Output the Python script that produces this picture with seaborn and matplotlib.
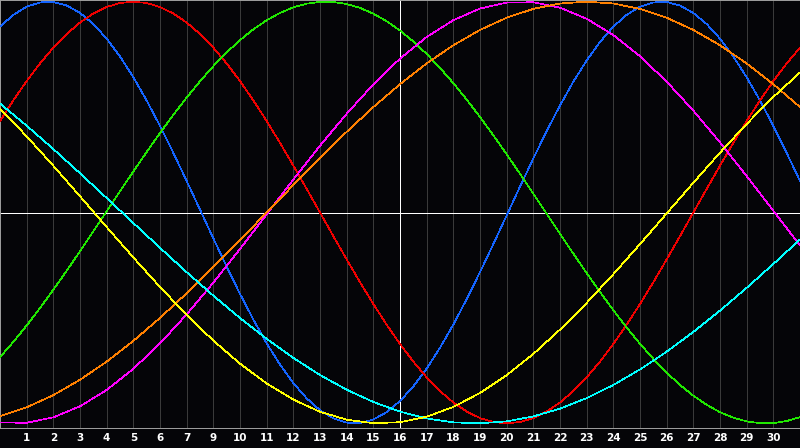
import numpy as np
import pandas as pd
import matplotlib
matplotlib.use("Agg")
import matplotlib.pyplot as plt
import seaborn as sns

# ---- data ----
days = list(range(0, 31))
half_days = [i / 2 for i in range(0, 61)]
tick_positions = list(range(1, 30))
tick_labels = ["1", "2", "3", "4", "5", "6", "7", "9", "10", "11", "12", "13", "14", "15",
               "16", "17", "18", "19", "20", "21", "22", "23", "24", "25", "26", "27", "28",
               "29", "30"]

# sampled every half day
blue = [0.8815, 0.9376, 0.9762, 0.9966, 0.9985, 0.9818, 0.9468, 0.8941, 0.8248, 0.7401,
        0.6416, 0.5313, 0.4109, 0.2828, 0.1497, 0.0136, -0.1226, -0.2566, -0.3859, -0.5078,
        -0.6205, -0.7214, -0.8090, -0.8815, -0.9376, -0.9762, -0.9966, -0.9985, -0.9818,
        -0.9468, -0.8941, -0.8248, -0.7401, -0.6416, -0.5313, -0.4109, -0.2828, -0.1497,
        -0.0136, 0.1226, 0.2566, 0.3859, 0.5078, 0.6205, 0.7214, 0.8090, 0.8815, 0.9376,
        0.9762, 0.9966, 0.9985, 0.9818, 0.9468, 0.8941, 0.8248, 0.7401, 0.6416, 0.5313,
        0.4109, 0.2828, 0.1497]
red = [0.4339, 0.5320, 0.6235, 0.7071, 0.7818, 0.8467, 0.9010, 0.9439, 0.9749, 0.9937,
       1.0, 0.9937, 0.9749, 0.9439, 0.9010, 0.8467, 0.7818, 0.7071, 0.6235, 0.5320,
       0.4339, 0.3303, 0.2225, 0.1120, 0.0, -0.1120, -0.2225, -0.3303, -0.4339, -0.5320,
       -0.6235, -0.7071, -0.7818, -0.8467, -0.9010, -0.9439, -0.9749, -0.9937, -1.0,
       -0.9937, -0.9749, -0.9439, -0.9010, -0.8467, -0.7818, -0.7071, -0.6235, -0.5320,
       -0.4339, -0.3303, -0.2225, -0.1120, 0.0, 0.1120, 0.2225, 0.3303, 0.4339, 0.5320,
       0.6235, 0.7071, 0.7818]
green = [-0.6859, -0.6136, -0.5358, -0.4532, -0.3663, -0.2763, -0.1836, -0.0894, 0.0058,
         0.1007, 0.1949, 0.2872, 0.3770, 0.4633, 0.5454, 0.6227, 0.6942, 0.7595, 0.8178,
         0.8689, 0.9120, 0.9469, 0.9731, 0.9906, 0.9991, 0.9986, 0.9890, 0.9705, 0.9431,
         0.9073, 0.8631, 0.8113, 0.7520, 0.6859, 0.6136, 0.5358, 0.4532, 0.3663, 0.2763,
         0.1836, 0.0894, -0.0058, -0.1007, -0.1949, -0.2872, -0.3770, -0.4633, -0.5454,
         -0.6227, -0.6942, -0.7595, -0.8178, -0.8689, -0.9120, -0.9469, -0.9731, -0.9906,
         -0.9991, -0.9986, -0.9890, -0.9705]
# sampled every day
magenta = [-0.9959, -0.9972, -0.9714, -0.9191, -0.8417, -0.7413, -0.6207, -0.4833, -0.3325,
           -0.1728, -0.0084, 0.1564, 0.3168, 0.4685, 0.6077, 0.7300, 0.8325, 0.9124, 0.9673,
           0.9959, 0.9972, 0.9714, 0.9191, 0.8417, 0.7413, 0.6207, 0.4833, 0.3325, 0.1728,
           0.0084, -0.1564]
orange = [-0.9659, -0.9239, -0.8660, -0.7934, -0.7071, -0.6088, -0.5, -0.3827, -0.2588,
          -0.1305, 0.0, 0.1305, 0.2588, 0.3827, 0.5, 0.6088, 0.7071, 0.7934, 0.8660, 0.9239,
          0.9659, 0.9914, 1.0, 0.9914, 0.9659, 0.9239, 0.8660, 0.7934, 0.7071, 0.6088, 0.5]
cyan = [0.5167, 0.4118, 0.3010, 0.1862, 0.0687, -0.0497, -0.1675, -0.2830, -0.3944, -0.5003,
        -0.5992, -0.6898, -0.7705, -0.8405, -0.8986, -0.9443, -0.9766, -0.9952, -0.9998,
        -0.9904, -0.9671, -0.9302, -0.8803, -0.8180, -0.7442, -0.6600, -0.5665, -0.4651,
        -0.3571, -0.2441, -0.1278]
yellow = [0.4932, 0.3613, 0.2217, 0.0772, -0.0687, -0.2132, -0.3532, -0.4856, -0.6077, -0.7169,
          -0.8108, -0.8873, -0.9450, -0.9826, -0.9992, -0.9945, -0.9686, -0.9221, -0.8559,
          -0.7714, -0.6706, -0.5554, -0.4285, -0.2924, -0.1499, -0.0044, 0.1412, 0.2839,
          0.4204, 0.5482, 0.6641]

series = [("blue", half_days, blue), ("red", half_days, red), ("green", half_days, green),
          ("magenta", days, magenta), ("orange", days, orange), ("cyan", days, cyan),
          ("yellow", days, yellow)]
colors = {"blue": "#1464ff", "red": "#f00000", "green": "#20e800", "magenta": "#ff00ff",
          "orange": "#ff8000", "cyan": "#00ffff", "yellow": "#ffff00"}

df = pd.concat([pd.DataFrame({"day": xs, "value": vals, "curve": name})
                for name, xs, vals in series], ignore_index=True)

sns.set_theme(style="dark")
plt.rcParams["font.family"] = ["DejaVu Sans"]

BG = "#050508"
fig = plt.figure(figsize=(8, 4.48), dpi=100, facecolor=BG)
ax = fig.add_axes([0, 1 - 428 / 448, 1, 428 / 448])
ax.set_facecolor(BG)

LW = 0.7
# grid lines
for xp in tick_positions:
    ax.axvline(xp, color="#3a3a3a", lw=LW, zorder=1, antialiased=False)
ax.axvline(15, color="white", lw=LW, zorder=2, antialiased=False)
ax.axhline(0, color="white", lw=LW, zorder=2, antialiased=False)

sns.lineplot(data=df, x="day", y="value", hue="curve", palette=colors,
             hue_order=[s[0] for s in series], legend=False, ax=ax,
             linewidth=0.5, antialiased=False, zorder=3, sort=True)

ax.set_xlim(0, 30)
ax.set_ylim(-1.022, 1.008)
ax.set_xticks(tick_positions)
ax.set_xticklabels(tick_labels, color="white", fontsize=7.5, fontweight="bold")
ax.tick_params(axis="x", length=0, pad=3.5)
ax.set_yticks([])
ax.set_xlabel("")
ax.set_ylabel("")
ax.grid(False)
for side in ["left", "top", "bottom", "right"]:
    ax.spines[side].set_visible(True)
    ax.spines[side].set_color("#a0a0a0")
    ax.spines[side].set_linewidth(LW)

fig.savefig("out.png", dpi=100, facecolor=BG)
